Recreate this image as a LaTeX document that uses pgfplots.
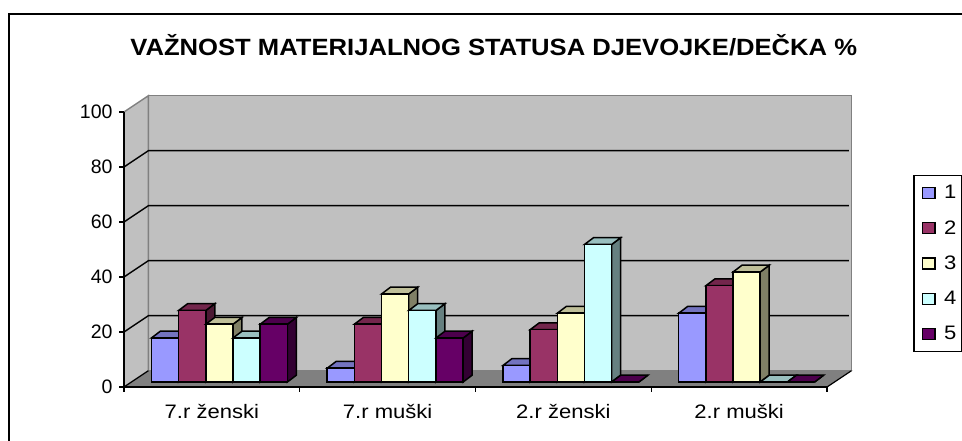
\documentclass[border=0pt]{standalone}
\usepackage{fontspec}
\setmainfont{Liberation Sans}
\usepackage{graphicx}
\usepackage{pgfplots}
\pgfplotsset{compat=1.18}
\definecolor{sa}{HTML}{9999FF}\definecolor{sb}{HTML}{993366}\definecolor{sc}{HTML}{FFFFCC}\definecolor{sd}{HTML}{CCFFFF}\definecolor{se}{HTML}{660066}
\definecolor{wall}{HTML}{C0C0C0}\definecolor{floorc}{HTML}{808080}
\newcommand{\wide}[1]{\scalebox{1.13}[1]{#1}}
% one 3D top and side for a bar: category, series, value, colour
\newcommand{\barfaces}[4]{%
  \pgfmathsetmacro\xl{#1+0.5+(#2-3.5)*0.15477}%
  \pgfmathsetmacro\xr{\xl+0.15477}%
  \pgfmathsetmacro\xlb{\xl+0.0512}%
  \pgfmathsetmacro\xrb{\xr+0.0512}%
  \pgfmathsetmacro\vb{#3+2.47}%
  \addplot[forget plot,draw=black,line width=1.5pt,fill=#4!50!black] coordinates {(\xr,0)(\xr,#3)(\xrb,\vb)(\xrb,2.47)} --cycle;
  \addplot[forget plot,draw=black,line width=1.5pt,fill=#4!75!black] coordinates {(\xl,#3)(\xr,#3)(\xrb,\vb)(\xlb,\vb)} --cycle;
}
\newcommand{\seriesbars}[7]{%
  \barfaces{0}{#1}{#4}{#2}\barfaces{1}{#1}{#5}{#2}\barfaces{2}{#1}{#6}{#2}\barfaces{3}{#1}{#7}{#2}%
  \addplot[ybar,bar width=27.2pt,bar shift=#3,draw=black,line width=1.5pt,fill=#2] coordinates {(0.5,#4)(1.5,#5)(2.5,#6)(3.5,#7)};
  \addlegendentry{\wide{#1}}
}
\begin{document}
\begin{tikzpicture}[x=1pt,y=1pt]
\path[use as bounding box] (0,0) rectangle (962,441);
\draw[line width=1.8pt,black] (9,-5) -- (9,427.2) -- (970,427.2);
\begin{axis}[
  at={(124pt,54pt)},anchor=south west,x=175.75pt,y=2.75pt,
  xmin=0,xmax=4,ymin=0,ymax=100,clip=false,axis on top,
  axis x line=bottom,axis y line=left,axis line style={-,line width=1.4pt,black},
  tick align=outside,major tick length=5pt,tick style={line width=1.4pt,black},
  xtick={0,1,2,3,4},xticklabels={\wide{7.r ženski},\wide{7.r muški},\wide{2.r ženski},\wide{2.r muški}},
  x tick label as interval=true,
  ytick={0,20,40,60,80,100},
  yticklabel={\pgfmathprintnumber{\tick}},
  /pgf/number format/assume math mode=true,
  tick label style={font=\fontsize{19.5}{19.5}\selectfont},
  x tick label style={yshift=-9pt},
  y tick label style={xshift=-3pt},
  title={\scalebox{1.09}[1]{\bfseries\fontsize{23.5}{23.5}\selectfont VAŽNOST MATERIJALNOG STATUSA DJEVOJKE/DEČKA \%}},
  title style={at={(0.526,1.222)},anchor=center},
]
\addplot[forget plot,draw=floorc,line width=1.4pt,fill=wall] coordinates {(0.139,5.93)(4.139,5.93)(4.139,105.93)(0.139,105.93)} --cycle;
\addplot[forget plot,draw=floorc,line width=1.4pt,fill=wall] coordinates {(0,0)(0,100)(0.139,105.93)(0.139,5.93)} --cycle;
\addplot[forget plot,draw=floorc,line width=0.8pt,fill=floorc] coordinates {(0,0)(4,0)(4.139,5.93)(0.139,5.93)} --cycle;
\addplot[forget plot,black,line width=1.2pt] coordinates {(0,0)(0.139,5.93)};
\addplot[forget plot,black,line width=1.2pt] coordinates {(4,0)(4.139,5.93)};
\addplot[forget plot,black,line width=1.4pt] coordinates {(0,20)(0.139,25.93)(4.125,25.93)};
\addplot[forget plot,black,line width=1.4pt] coordinates {(0,40)(0.139,45.93)(4.125,45.93)};
\addplot[forget plot,black,line width=1.4pt] coordinates {(0,60)(0.139,65.93)(4.125,65.93)};
\addplot[forget plot,black,line width=1.4pt] coordinates {(0,80)(0.139,85.93)(4.125,85.93)};
\end{axis}
\begin{axis}[
  at={(131.5pt,59pt)},anchor=south west,x=175.75pt,y=2.75pt,
  xmin=0,xmax=4,ymin=0,ymax=100,clip=false,
  axis lines=none,
  legend style={at={(1.1122,0.7535)},anchor=north west,draw=black,line width=1.3pt,
    font=\fontsize{19.5}{19.5}\selectfont,row sep=16.2pt,inner xsep=3pt,inner ysep=8pt},
  legend cell align=left,
  legend image code/.code={\path (0pt,0pt) (23.5pt,0pt);\draw[#1,line width=1.2pt] (4.7pt,-5.5pt) rectangle (17.2pt,5.5pt);},
]
\seriesbars{1}{sa}{-54.4pt}{16}{5}{6}{25}
\seriesbars{2}{sb}{-27.2pt}{26}{21}{19}{35}
\seriesbars{3}{sc}{0pt}{21}{32}{25}{40}
\seriesbars{4}{sd}{27.2pt}{16}{26}{50}{0}
\seriesbars{5}{se}{54.4pt}{21}{16}{0}{0}
\end{axis}
\end{tikzpicture}
\end{document}
